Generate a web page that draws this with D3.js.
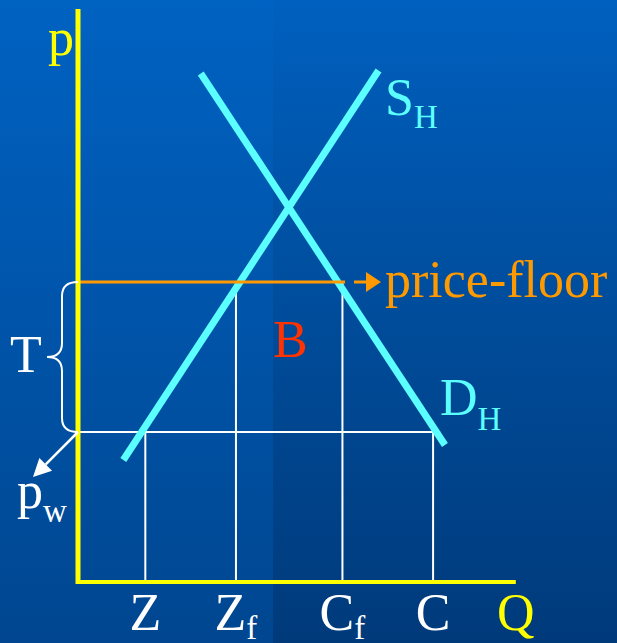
<!DOCTYPE html>
<html>
<head>
<meta charset="utf-8">
<script src="https://cdn.jsdelivr.net/npm/d3@7"></script>
<style>
  html, body { margin: 0; padding: 0; background: #0058b0; }
  svg { display: block; }
</style>
</head>
<body>
<svg id="chart" width="617" height="643"></svg>
<script>
// ---- data (economic units) ----
const quantityNames = ["Z", "Z", "C", "C"];
const quantitySubs = ["", "f", "f", ""];
const quantityValues = [1.53, 3.59, 6.01, 8.07];
const quantityTops = ["world", "floor", "floor", "world"];
const worldPrice = 3.0;
const floorPrice = 6.0;
const worldLineEnd = 8.23;
const floorLineEnd = 6.07;
const supplyQ = [1.03, 6.83];
const supplyP = [2.44, 10.23];
const demandQ = [2.79, 8.34];
const demandP = [10.17, 2.74];
const axisMaxQ = 9.95;
const axisMaxP = 11.46;

const W = 617, H = 643;
const FONT = '"Liberation Serif"';
const svg = d3.select("#chart");
const x = d3.scaleLinear().domain([0, 10]).range([78, 518]);
const y = d3.scaleLinear().domain([0, 11]).range([582, 32]);
const txt = (sel) => sel.append("text").style("font-family", FONT);

// ---- background ----
const defs = svg.append("defs");
const g1 = defs.append("linearGradient").attr("id", "bg").attr("x1", 0).attr("y1", 0).attr("x2", 0).attr("y2", 1);
g1.append("stop").attr("offset", "0%").attr("stop-color", "#0062c2");
g1.append("stop").attr("offset", "100%").attr("stop-color", "#004690");
const g2 = defs.append("linearGradient").attr("id", "shade").attr("x1", 0).attr("y1", 0).attr("x2", 0).attr("y2", 1);
g2.append("stop").attr("offset", "0%").attr("stop-color", "#001030").attr("stop-opacity", 0.02);
g2.append("stop").attr("offset", "100%").attr("stop-color", "#001030").attr("stop-opacity", 0.22);
svg.append("rect").attr("width", W).attr("height", H).attr("fill", "url(#bg)");
svg.append("rect").attr("x", 273).attr("width", W - 273).attr("height", H).attr("fill", "url(#shade)");

const cyan = "#5cffff", orange = "#ff9900", yellow = "#ffff00", red = "#ff3300";

// ---- white guide lines ----
const idx = d3.range(quantityValues.length);
const topPrice = t => t === "world" ? worldPrice : floorPrice;
svg.append("g").selectAll("line").data(idx).join("line")
  .attr("x1", i => x(quantityValues[i])).attr("x2", i => x(quantityValues[i]))
  .attr("y1", i => y(topPrice(quantityTops[i]))).attr("y2", y(0))
  .attr("stroke", "#fff").attr("stroke-width", 2);
svg.append("line")
  .attr("x1", x(0)).attr("x2", x(worldLineEnd))
  .attr("y1", y(worldPrice)).attr("y2", y(worldPrice))
  .attr("stroke", "#fff").attr("stroke-width", 2);

// ---- supply & demand ----
const line = d3.line().x(d => x(d[0])).y(d => y(d[1]));
svg.append("path").datum(d3.zip(supplyQ, supplyP)).attr("d", line)
  .attr("stroke", cyan).attr("stroke-width", 7).attr("fill", "none");
svg.append("path").datum(d3.zip(demandQ, demandP)).attr("d", line)
  .attr("stroke", cyan).attr("stroke-width", 7).attr("fill", "none");

// ---- price floor ----
svg.append("line")
  .attr("x1", x(0)).attr("x2", x(floorLineEnd))
  .attr("y1", y(floorPrice)).attr("y2", y(floorPrice))
  .attr("stroke", orange).attr("stroke-width", 3);
const fy = y(floorPrice);
svg.append("line").attr("x1", 354).attr("x2", 368).attr("y1", fy).attr("y2", fy)
  .attr("stroke", orange).attr("stroke-width", 3);
svg.append("path").attr("d", `M366,${fy - 10} L381,${fy} L366,${fy + 10} Z`).attr("fill", orange);
txt(svg).attr("x", 385).attr("y", 297).attr("font-size", 52).attr("fill", orange).text("price-floor");

// ---- axes ----
svg.append("line").attr("x1", x(0)).attr("x2", x(0)).attr("y1", y(axisMaxP)).attr("y2", y(0) + 2)
  .attr("stroke", yellow).attr("stroke-width", 5);
svg.append("line").attr("x1", x(0) - 2).attr("x2", x(axisMaxQ)).attr("y1", y(0)).attr("y2", y(0))
  .attr("stroke", yellow).attr("stroke-width", 4);
txt(svg).attr("x", 48).attr("y", 55).attr("font-size", 52).attr("fill", yellow).text("p");
txt(svg).attr("x", 497).attr("y", 630).attr("font-size", 52).attr("fill", yellow).text("Q");

// ---- quantity labels ----
const ql = svg.append("g").selectAll("text").data(idx).join("text")
  .style("font-family", FONT)
  .attr("x", i => x(quantityValues[i])).attr("y", 630).attr("text-anchor", "middle")
  .attr("font-size", 52).attr("fill", "#fff");
ql.append("tspan").text(i => quantityNames[i]);
ql.filter(i => quantitySubs[i]).append("tspan").attr("dy", 9).attr("font-size", 33)
  .text(i => quantitySubs[i]);

// ---- curve labels ----
const sl = txt(svg).attr("x", 385).attr("y", 115).attr("font-size", 52).attr("fill", cyan);
sl.append("tspan").text("S");
sl.append("tspan").attr("dy", 13).attr("font-size", 33).text("H");
const dl = txt(svg).attr("x", 440).attr("y", 415).attr("font-size", 52).attr("fill", cyan);
dl.append("tspan").text("D");
dl.append("tspan").attr("dy", 15).attr("font-size", 33).text("H");

txt(svg).attr("x", 273).attr("y", 357).attr("font-size", 52).attr("fill", red).text("B");

// ---- brace T ----
const yt = y(floorPrice), yb = y(worldPrice), ym = (yt + yb) / 2, x0 = x(0);
const bp = d3.path();
bp.moveTo(x0, yt);
bp.quadraticCurveTo(62, yt, 62, yt + 14);
bp.lineTo(62, ym - 14);
bp.quadraticCurveTo(62, ym, 47, ym);
bp.quadraticCurveTo(62, ym, 62, ym + 14);
bp.lineTo(62, yb - 14);
bp.quadraticCurveTo(62, yb, x0, yb);
svg.append("path").attr("d", bp.toString()).attr("fill", "none").attr("stroke", "#fff").attr("stroke-width", 2);
txt(svg).attr("x", 10).attr("y", 372).attr("font-size", 52).attr("fill", "#fff").text("T");

// ---- p_w arrow ----
const tip = [33, yb + 45];
const ux = -Math.SQRT1_2, uy = Math.SQRT1_2;
const hl = 18, hw = 9;
const bx = tip[0] - ux * hl, by = tip[1] - uy * hl;
svg.append("line").attr("x1", x0).attr("y1", yb).attr("x2", bx).attr("y2", by)
  .attr("stroke", "#fff").attr("stroke-width", 2.5);
svg.append("path").attr("d", `M${tip[0]},${tip[1]} L${bx + uy * hw},${by - ux * hw} L${bx - uy * hw},${by + ux * hw} Z`)
  .attr("fill", "#fff");
const pw = txt(svg).attr("x", 17).attr("y", 508).attr("font-size", 52).attr("fill", "#fff");
pw.append("tspan").text("p");
pw.append("tspan").attr("dy", 14).attr("font-size", 33).text("w");
</script>
</body>
</html>
